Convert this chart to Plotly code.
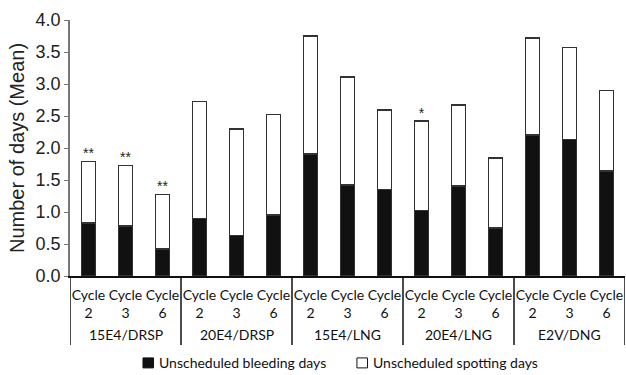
import plotly.graph_objects as go

groups = ["15E4/DRSP", "20E4/DRSP", "15E4/LNG", "20E4/LNG", "E2V/DNG"]
cycles = ["Cycle<br>2", "Cycle<br>3", "Cycle<br>6"]
totals = [1.79, 1.73, 1.27, 2.73, 2.30, 2.52, 3.75, 3.11, 2.59, 2.42, 2.67, 1.84, 3.72, 3.57, 2.90]
bleeding = [0.83, 0.78, 0.42, 0.90, 0.63, 0.95, 1.91, 1.42, 1.35, 1.02, 1.41, 0.75, 2.20, 2.13, 1.64]
stars = ["**", "**", "**", "", "", "", "", "", "", "*", "", "", "", "", ""]
legend_names = ["Unscheduled bleeding days", "Unscheduled spotting days"]
legend_colors = ["#111111", "white"]

spotting = [round(t - b, 2) for t, b in zip(totals, bleeding)]
n_cyc = len(cycles)
xs = list(range(len(totals)))
ticktext = [c for _ in groups for c in cycles]

fig = go.Figure()
fig.add_bar(x=xs, y=bleeding, name=legend_names[0],
            marker=dict(color=legend_colors[0], line=dict(color="#333333", width=1.5)), width=0.38)
fig.add_bar(x=xs, y=spotting, name=legend_names[1],
            marker=dict(color=legend_colors[1], line=dict(color="#333333", width=1.5)), width=0.38)
fig.add_scatter(x=xs, y=totals, text=stars, mode="text", textposition="top center",
                textfont=dict(size=14, color="#222", family="Liberation Sans"), showlegend=False,
                hoverinfo="skip")

# group dividers and group labels
for gi, g in enumerate(groups):
    fig.add_shape(type="line", xref="x", yref="paper", x0=gi * n_cyc - 0.5, x1=gi * n_cyc - 0.5,
                  y0=0, y1=-0.27, line=dict(color="#111", width=1.5))
    fig.add_annotation(xref="x", yref="paper", x=gi * n_cyc + (n_cyc - 1) / 2, y=-0.23, text=g,
                       showarrow=False, yanchor="middle",
                       font=dict(family="Lato", size=14, color="#111"))
fig.add_shape(type="line", xref="x", yref="paper", x0=len(totals) - 0.5, x1=len(totals) - 0.5,
              y0=0, y1=-0.27, line=dict(color="#111", width=1.5))

# manual legend (paper coordinates)
leg_x = [0.1315, 0.517]
for name, col, lx in zip(legend_names, legend_colors, leg_x):
    fig.add_shape(type="rect", xref="paper", yref="paper", x0=lx, x1=lx + 0.019,
                  y0=-0.359, y1=-0.320, fillcolor=col, line=dict(color="#111", width=1))
    fig.add_annotation(xref="paper", yref="paper", x=lx + 0.025, y=-0.339, text=name,
                       showarrow=False, xanchor="left", yanchor="middle",
                       font=dict(family="Lato", size=14, color="#111"))

fig.update_layout(
    barmode="stack",
    width=626, height=375,
    margin=dict(l=70, r=1, t=20, b=99, autoexpand=False),
    plot_bgcolor="white", paper_bgcolor="white",
    font=dict(family="Liberation Sans", color="#222"),
    showlegend=False,
)
fig.update_yaxes(range=[0, 4], dtick=0.5, tickformat=".1f", showgrid=False, zeroline=False,
                 showline=True, linecolor="#777", linewidth=1.5, ticks="outside", ticklen=4,
                 tickcolor="#777", tickfont=dict(size=18, family="Liberation Sans", color="#222"),
                 title=dict(text="Number of days (Mean)", font=dict(size=20, family="Liberation Sans", color="#222"), standoff=6))
fig.update_xaxes(range=[-0.5, len(totals) - 0.5], autorange=False, tickmode="array",
                 tickvals=xs, ticktext=ticktext, ticks="", ticklabelstandoff=5,
                 showgrid=False, showline=True, linecolor="#111", linewidth=1.5, tickangle=0,
                 tickfont=dict(size=14, family="Lato", color="#111"))
fig.write_html("out.html", config={"displayModeBar": False},
               post_script="document.body.style.margin='0';")
